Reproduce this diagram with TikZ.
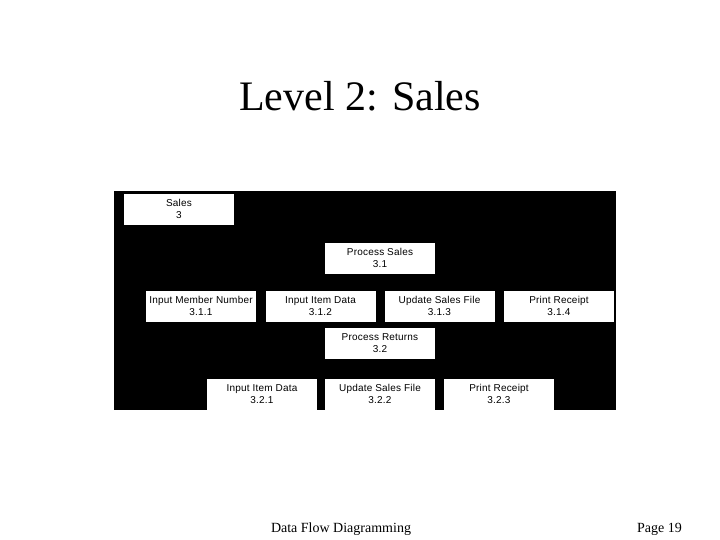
\documentclass[tikz,border=0pt]{standalone}
\usepackage{fontspec}
\setmainfont{Liberation Serif}
\newfontfamily\boxfont[LetterSpace=2]{Liberation Sans}
\usepackage{tikz}
\newcommand{\ptop}{\rule{0pt}{10.4pt}}

\begin{document}
\begin{tikzpicture}[x=1pt,y=-1pt,
    proc/.style={fill=white,inner sep=0pt,minimum width=110pt,minimum height=31pt,
      align=center,font=\boxfont\fontsize{10}{12}\selectfont}]
    \useasboundingbox (0,0) rectangle (720,540);

    \node (title) at (360,96) {\fontsize{42}{48}\selectfont Level 2: Sales};

    \fill[black] (114,191) rectangle (616,410);

    \node[proc] (sales) at (179,209.5) {\ptop Sales\\3\strut};
    \node[proc] (s31) at (380,258) {\ptop Process Sales\\3.1\strut};
    \node[proc] (s311) at (201,306.5) {\ptop Input Member Number\\3.1.1\strut};
    \node[proc] (s312) at (320.5,306.5) {\ptop Input Item Data\\3.1.2\strut};
    \node[proc] (s313) at (439.5,306.5) {\ptop Update Sales File\\3.1.3\strut};
    \node[proc] (s314) at (559,306.5) {\ptop Print Receipt\\3.1.4\strut};
    \node[proc] (s32) at (380,343.5) {\ptop Process Returns\\3.2\strut};
    \node[proc] (s321) at (262,394.5) {\ptop Input Item Data\\3.2.1\strut};
    \node[proc] (s322) at (380,394.5) {\ptop Update Sales File\\3.2.2\strut};
    \node[proc] (s323) at (499,394.5) {\ptop Print Receipt\\3.2.3\strut};

    \node[font=\fontsize{14}{16}\selectfont,anchor=base] (foot) at (341,532) {Data Flow Diagramming};
    \node[font=\fontsize{14}{16}\selectfont,anchor=base east,inner sep=0pt] (page) at (682,532) {Page 19};
\end{tikzpicture}
\end{document}
